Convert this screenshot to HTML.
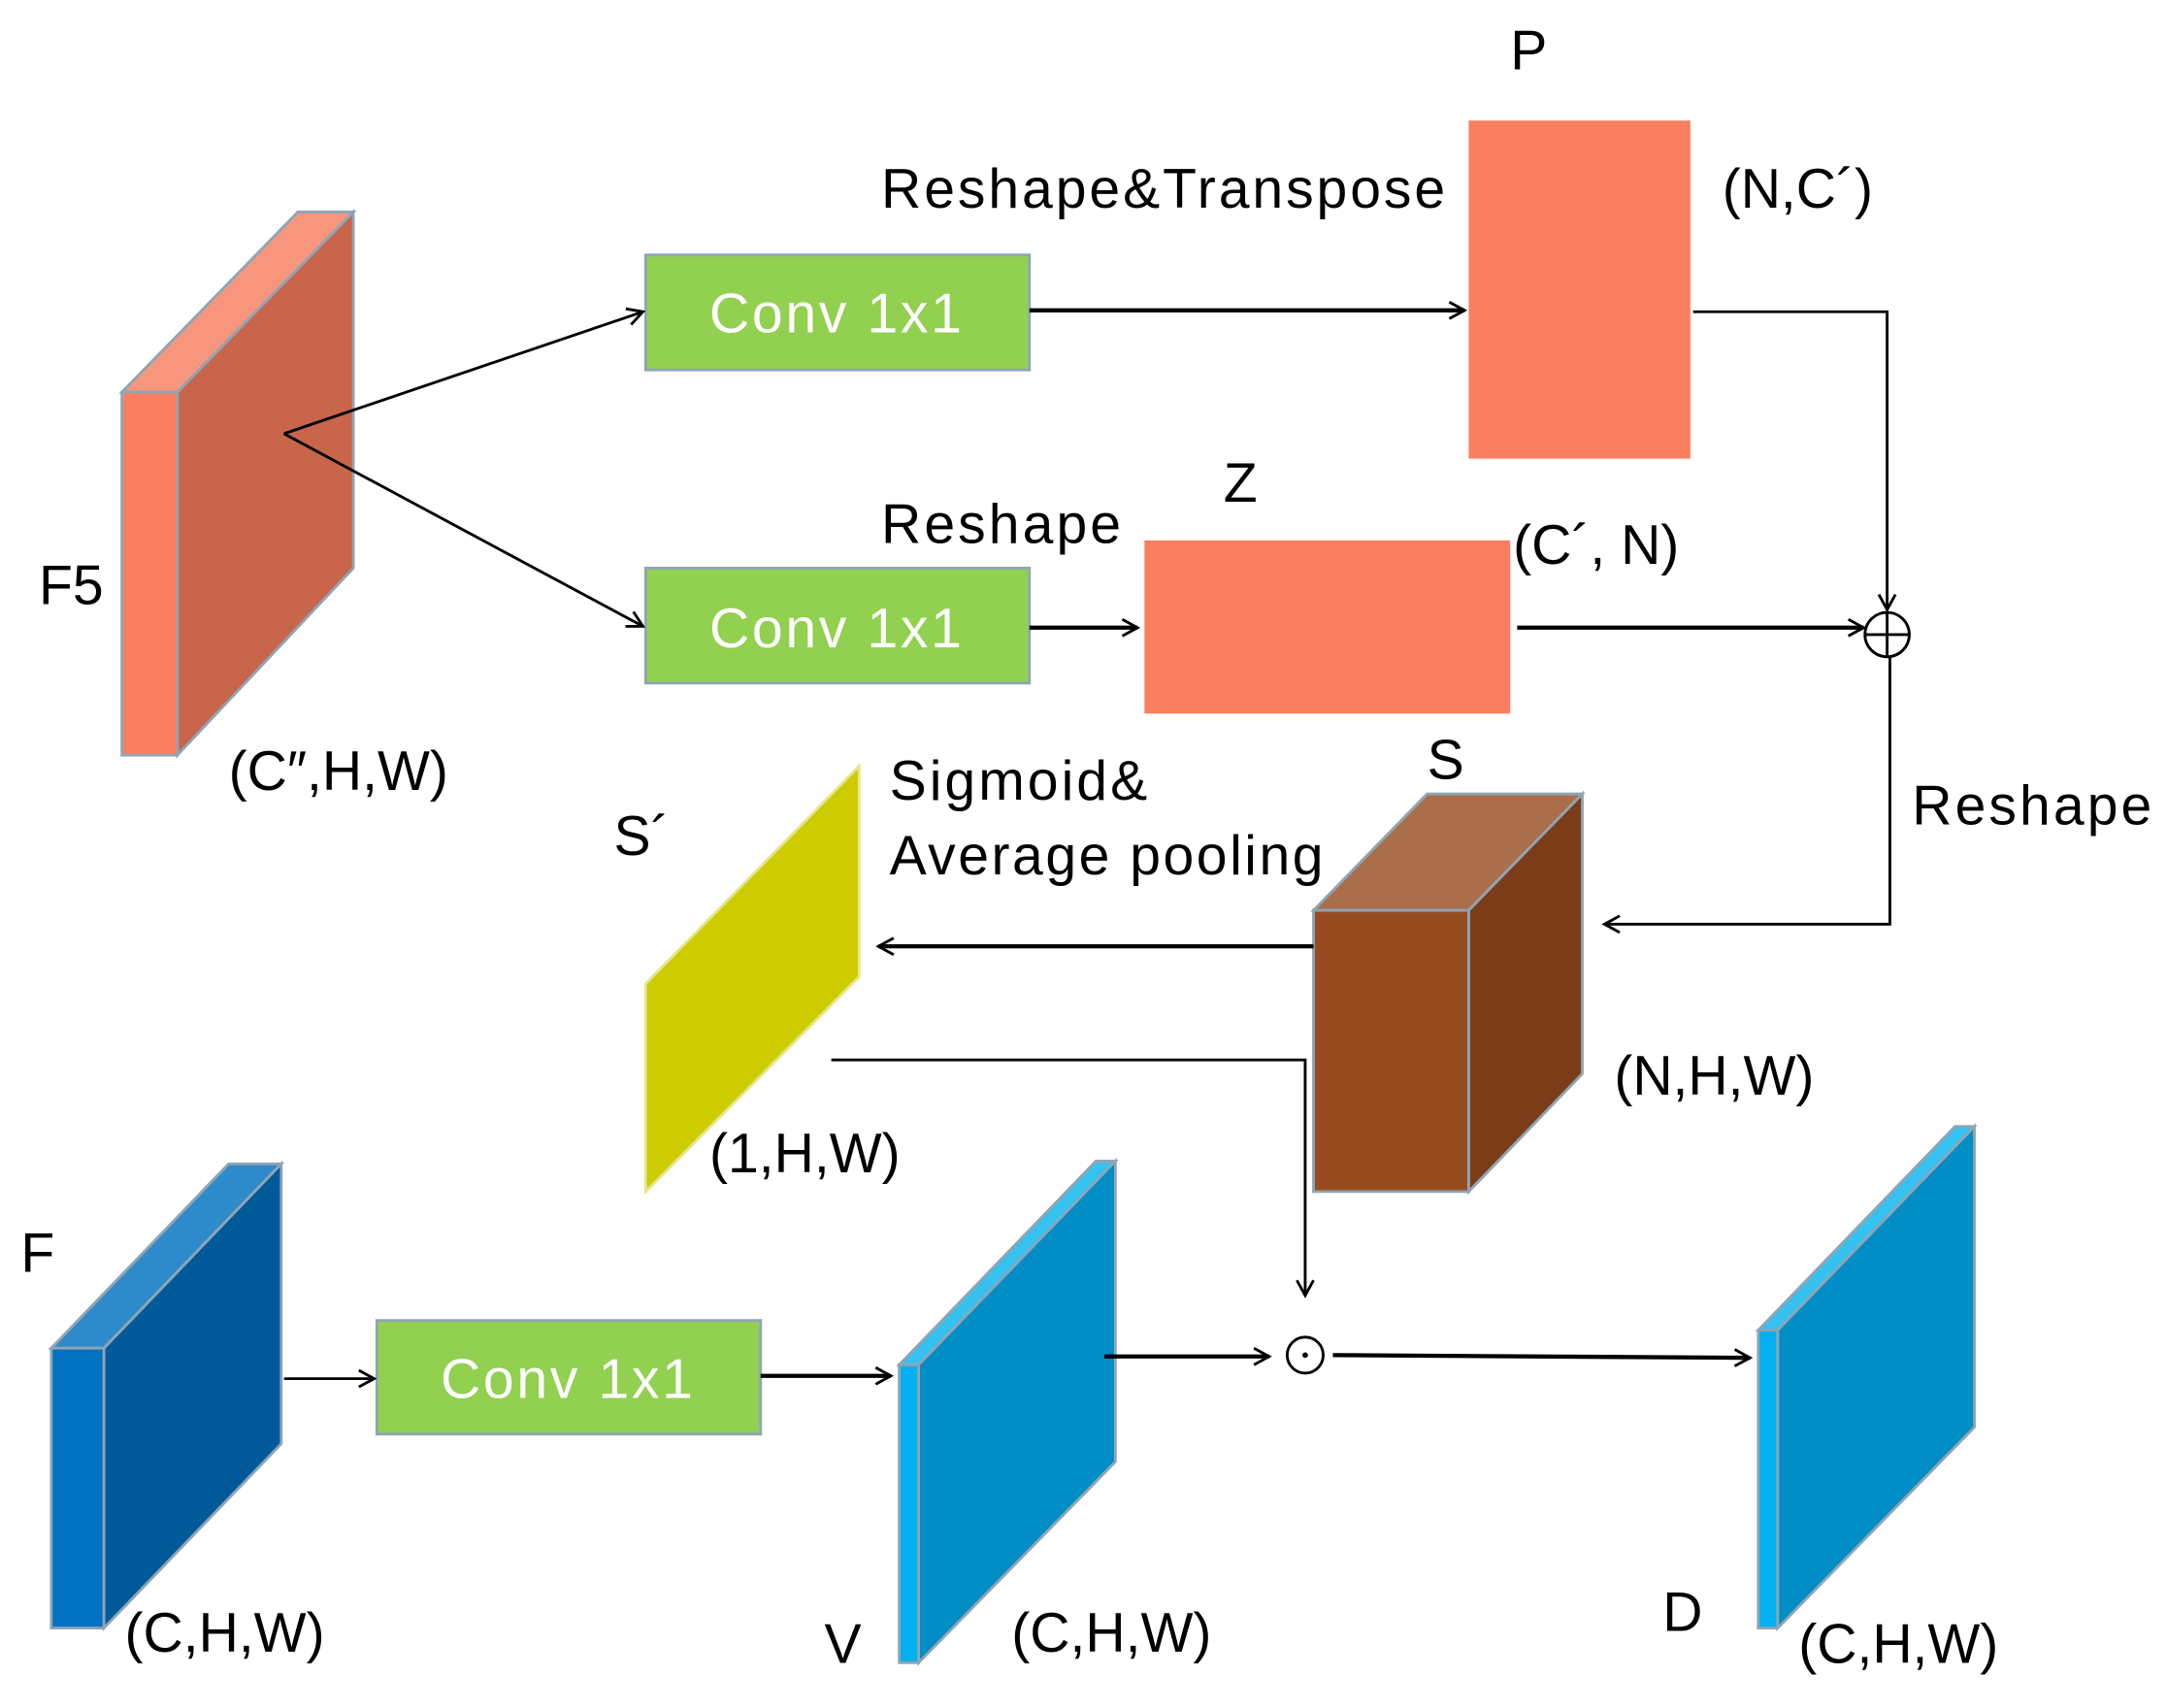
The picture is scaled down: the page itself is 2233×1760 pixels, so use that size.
<!DOCTYPE html>
<html><head><meta charset="utf-8"><style>
html,body{margin:0;padding:0;background:#fff;}
svg{display:block;}
text{font-family:"Liberation Sans",Arial,sans-serif;font-size:40px;fill:#000;}
.w{fill:#fff;}
</style></head><body>
<svg width="2233" height="1760" viewBox="0 0 1564 1232.7" xmlns="http://www.w3.org/2000/svg">
<defs>
<marker id="a" markerWidth="14" markerHeight="14" refX="12" refY="7" orient="auto" markerUnits="userSpaceOnUse">
<path d="M1,1 L12,7 L1,13" fill="none" stroke="#000" stroke-width="2"/>
</marker>
</defs>
<g stroke="#8FA5B5" stroke-width="2">
<!-- F5 -->
<polygon points="88,283 128,283 255,153 215,153" fill="#F7967C"/>
<polygon points="128,283 255,153 255,410 128,545" fill="#C8654A"/>
<rect x="88" y="283" width="40" height="262" fill="#F97F60"/>
<!-- convs -->
<rect x="466" y="184" width="277" height="83" fill="#92D050"/>
<rect x="466" y="410" width="277" height="83" fill="#92D050"/>
<rect x="272" y="953" width="277" height="82" fill="#92D050"/>
</g>
<rect x="1060" y="87" width="160" height="244" fill="#F97F60"/>
<rect x="826" y="390" width="264" height="125" fill="#F97F60"/>
<g stroke="#8FA5B5" stroke-width="2">
<!-- S cube -->
<polygon points="948,657 1060,657 1142,573 1030,573" fill="#AA6F4A"/>
<polygon points="1060,657 1142,573 1142,775 1060,860" fill="#7B3C18"/>
<rect x="948" y="657" width="112" height="203" fill="#974C20"/>
<!-- S' -->
<polygon points="466,710 620,553 620,705 466,860" fill="#CCCC00" stroke="#E5E58A"/>
<!-- F -->
<polygon points="37,973 75,973 203,840 165,840" fill="#2E8BCB"/>
<polygon points="75,973 203,840 203,1042 75,1175" fill="#005A9A"/>
<rect x="37" y="973" width="38" height="202" fill="#0070C0"/>
<!-- V -->
<polygon points="649,985 663,985 805,838 791,838" fill="#35C2F0"/>
<polygon points="663,985 805,838 805,1055 663,1200" fill="#008CC4"/>
<rect x="649" y="985" width="14" height="215" fill="#00B0F0"/>
<!-- D -->
<polygon points="1269,960 1283,960 1425,813 1411,813" fill="#35C2F0"/>
<polygon points="1283,960 1425,813 1425,1030 1283,1175" fill="#008CC4"/>
<rect x="1269" y="960" width="14" height="215" fill="#00B0F0"/>
</g>
<g stroke="#000" fill="none">
<line x1="205" y1="313" x2="464" y2="225" stroke-width="2" marker-end="url(#a)"/>
<line x1="205" y1="313" x2="464" y2="452" stroke-width="2" marker-end="url(#a)"/>
<line x1="743" y1="224" x2="1057" y2="224" stroke-width="3" marker-end="url(#a)"/>
<line x1="743" y1="453" x2="821" y2="453" stroke-width="3" marker-end="url(#a)"/>
<line x1="1095" y1="453" x2="1345" y2="453" stroke-width="3" marker-end="url(#a)"/>
<polyline points="1222,225 1362,225 1362,440" stroke-width="2" marker-end="url(#a)"/>
<circle cx="1362" cy="458" r="16" stroke-width="2"/>
<line x1="1346" y1="458" x2="1378" y2="458" stroke-width="2"/>
<line x1="1362" y1="442" x2="1362" y2="474" stroke-width="2"/>
<polyline points="1364,474 1364,667 1158,667" stroke-width="2" marker-end="url(#a)"/>
<line x1="948" y1="683" x2="634" y2="683" stroke-width="3" marker-end="url(#a)"/>
<polyline points="600,765 942,765 942,935" stroke-width="2" marker-end="url(#a)"/>
<line x1="205" y1="995" x2="270" y2="995" stroke-width="2" marker-end="url(#a)"/>
<line x1="549" y1="993" x2="643" y2="993" stroke-width="3" marker-end="url(#a)"/>
<line x1="797" y1="979" x2="916" y2="979" stroke-width="3" marker-end="url(#a)"/>
<circle cx="942" cy="978" r="13" stroke-width="2"/>
<line x1="962" y1="978" x2="1263" y2="980" stroke-width="3" marker-end="url(#a)"/>
</g>
<circle cx="942" cy="978" r="2" fill="#000"/>
<text class="w" x="512" y="240" textLength="182">Conv 1x1</text>
<text class="w" x="512" y="467" textLength="182">Conv 1x1</text>
<text class="w" x="318" y="1009" textLength="182">Conv 1x1</text>
<text x="1090" y="50">P</text>
<text x="636" y="150" textLength="407">Reshape&amp;Transpose</text>
<text x="1243" y="150">(N,C´)</text>
<text x="883" y="362">Z</text>
<text x="636" y="392" textLength="173">Reshape</text>
<text x="1092" y="407">(C´,  N)</text>
<text x="28" y="436">F5</text>
<text x="165" y="570">(C″,H,W)</text>
<text x="1030" y="562">S</text>
<text x="1380" y="595" textLength="173">Reshape</text>
<text x="443" y="617">S´</text>
<text x="642" y="577" textLength="186">Sigmoid&amp;</text>
<text x="642" y="631" textLength="313">Average pooling</text>
<text x="1165" y="790">(N,H,W)</text>
<text x="512" y="846">(1,H,W)</text>
<text x="15" y="918">F</text>
<text x="90" y="1192">(C,H,W)</text>
<text x="595" y="1200">V</text>
<text x="730" y="1192">(C,H,W)</text>
<text x="1200" y="1177">D</text>
<text x="1298" y="1200">(C,H,W)</text>
</svg>
</body></html>
